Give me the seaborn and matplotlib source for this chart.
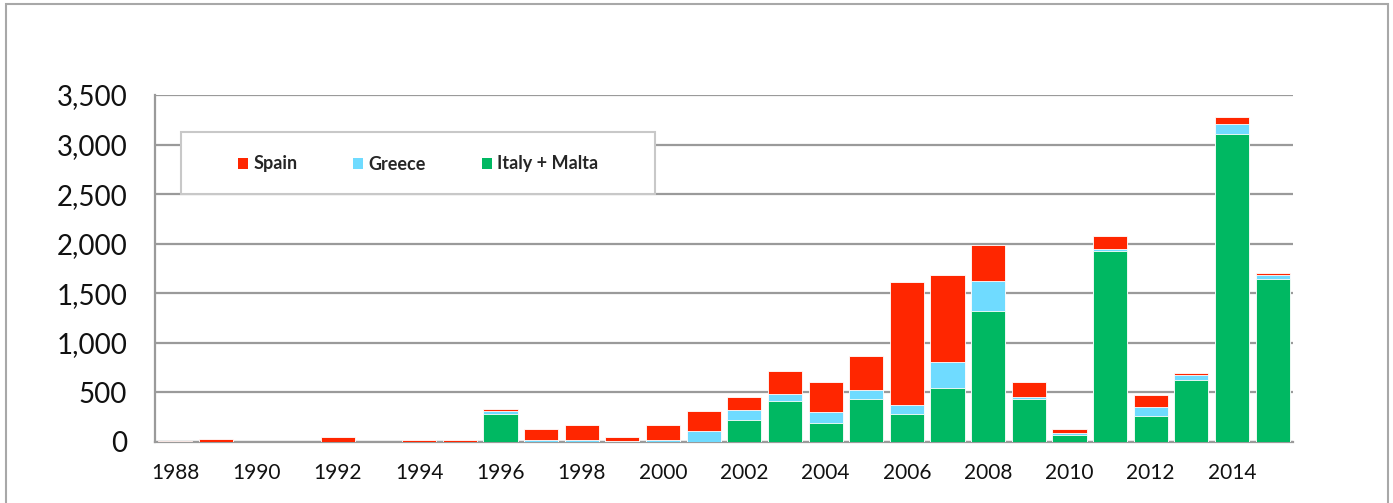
import numpy as np
import pandas as pd
import matplotlib
matplotlib.use("Agg")
import matplotlib.pyplot as plt
from matplotlib.patches import Rectangle, Patch
import seaborn as sns

# data (arrivals by sea, hundreds)
years = list(range(1988, 2016))
italy_malta = [0, 0, 0, 0, 0, 0, 0, 0, 285, 0, 0, 0, 0, 0,
               220, 410, 195, 430, 282, 541, 1320, 430, 70, 1925, 262, 628, 3105, 1640]
greece = [0, 0, 0, 0, 0, 0, 0, 0, 25, 25, 25, 5, 25, 110,
          105, 70, 107, 90, 88, 262, 300, 27, 25, 25, 90, 43, 107, 46]
spain = [5, 30, 0, 0, 50, 0, 25, 25, 20, 110, 150, 45, 150, 200,
         130, 235, 302, 343, 1248, 883, 370, 147, 36, 125, 125, 21, 68, 20]

labels = ["Spain", "Greece", "Italy + Malta"]
colors = ["#FF2600", "#6FDBFF", "#00B862"]

df = pd.DataFrame({"year": [str(y) for y in years],
                   "Italy + Malta": italy_malta,
                   "Greece": greece,
                   "Spain": spain})
df["g_top"] = df["Italy + Malta"] + df["Greece"]
df["s_top"] = df["g_top"] + df["Spain"]

sns.set_theme(style="white")
plt.rcParams["font.family"] = ["Lato", "DejaVu Sans"]

fig = plt.figure(figsize=(13.93, 5.03), dpi=100)
ax = fig.add_axes([0.1113, 0.1213, 0.8169, 0.6898])

order = df["year"].tolist()
for col, c in zip(["s_top", "g_top", "Italy + Malta"], colors):
    sns.barplot(data=df, x="year", y=col, order=order, color=c, width=0.84,
                edgecolor="#FFFFFF", linewidth=0.6, saturation=1, ax=ax, zorder=3)

ax.set_ylim(0, 3500)
ax.set_xlim(-0.5, len(years) - 0.5)
ax.set_yticks(np.arange(0, 3501, 500))
ax.set_yticklabels([f"{v:,}" for v in range(0, 3501, 500)], fontsize=20, color="#111111")
ax.set_xticks(range(0, len(years), 2))
ax.set_xticklabels([str(y) for y in years[::2]], fontsize=15, color="#111111")
ax.tick_params(axis="y", length=0, pad=20)
ax.tick_params(axis="x", length=0, pad=15)
ax.set_xlabel("")
ax.set_ylabel("")

ax.yaxis.grid(True, color="#9A9A9A", linewidth=1.6, zorder=0)
ax.set_axisbelow(True)
for s in ["top", "right"]:
    ax.spines[s].set_visible(False)
for s in ["left", "bottom"]:
    ax.spines[s].set_color("#9A9A9A")
    ax.spines[s].set_linewidth(1.6)

# legend box
box = Rectangle((181 / 1393, 1 - 194 / 503), (655 - 181) / 1393, 62 / 503,
                transform=fig.transFigure, facecolor="white", edgecolor="#C8C8C8",
                linewidth=1.5, zorder=5)
fig.patches.append(box)
handles = [Patch(facecolor=c, edgecolor="none") for c in colors]
leg = fig.legend(handles, labels, loc="center left", ncol=3, frameon=False,
                 bbox_to_anchor=(238 / 1393, 1 - 164 / 503),
                 prop={"weight": "bold", "size": 13},
                 handlelength=0.55, handleheight=0.55, handletextpad=0.3,
                 columnspacing=3.1, borderaxespad=0, borderpad=0)
leg.set_zorder(6)

# outer frame
frame = Rectangle((6 / 1393, -0.05), (1388 - 6) / 1393, 1.05 - 4 / 503,
                  transform=fig.transFigure, facecolor="none", edgecolor="#A8A8A8",
                  linewidth=1.5)
fig.patches.append(frame)

fig.savefig("out.png", dpi=100)
